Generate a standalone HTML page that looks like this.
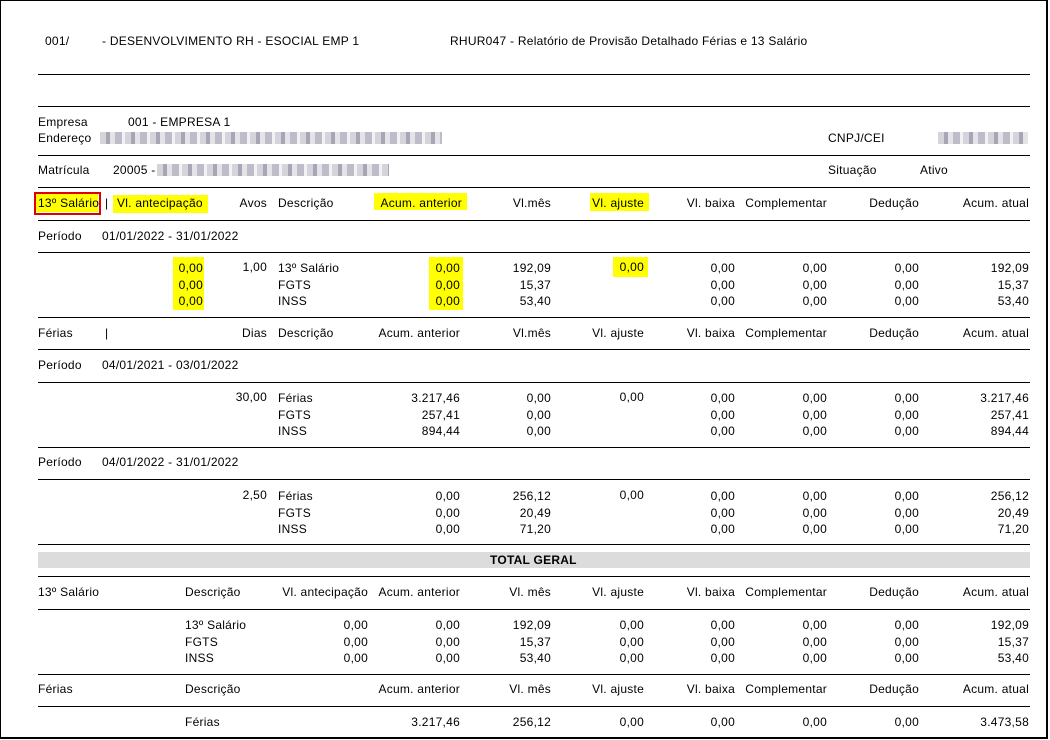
<!DOCTYPE html>
<html><head><meta charset="utf-8"><style>
*{margin:0;padding:0;box-sizing:border-box}
body{width:1050px;height:740px;background:#fff;position:relative;overflow:hidden;font-family:"Liberation Sans",Arial,sans-serif;font-size:12px;color:#000;letter-spacing:0.25px}
.frame{position:absolute;left:0;top:0;width:1048px;height:739px;border:1px solid #000;border-right-width:2px;border-bottom-width:2px}
.t{position:absolute;line-height:14px;white-space:nowrap}
.r{position:absolute;line-height:14px;white-space:nowrap;text-align:right}
.m{line-height:16.5px}
.l{position:absolute;left:38px;width:992px;height:1px;background:#000}
.y{position:absolute;background:#ffff00}
.blur{position:absolute;height:12px;background:repeating-linear-gradient(90deg,#d4d4da 0 6px,#a8a6b4 6px 10px,#e4e4e8 10px 15px,#bebcc8 15px 22px,#f2f2f4 22px 25px)}
</style></head><body>
<div class="frame"></div>

<div class="t" style="left:45px;top:34px">001/</div>
<div class="t" style="left:102px;top:34px">- DESENVOLVIMENTO RH - ESOCIAL EMP 1</div>
<div class="t" style="left:450px;top:34px">RHUR047 - Relatório de Provisão Detalhado Férias e 13 Salário</div>

<div class="l" style="top:74px"></div>
<div class="l" style="top:106px"></div>

<div class="t" style="left:38px;top:115px">Empresa</div>
<div class="t" style="left:128px;top:115px">001 - EMPRESA 1</div>
<div class="t" style="left:38px;top:131px">Endereço</div>
<div class="blur" style="left:100px;top:132px;width:342px"></div>
<div class="t" style="left:828px;top:131px">CNPJ/CEI</div>
<div class="blur" style="left:938px;top:132px;width:90px"></div>
<div class="l" style="top:155px"></div>
<div class="t" style="left:38px;top:163px">Matrícula</div>
<div class="t" style="left:113px;top:163px">20005 -</div>
<div class="blur" style="left:157px;top:164px;width:232px"></div>
<div class="t" style="left:828px;top:163px">Situação</div>
<div class="t" style="left:920px;top:163px">Ativo</div>
<div class="l" style="top:187px"></div>

<div class="y" style="left:36px;top:194px;width:62px;height:18px"></div>
<div style="position:absolute;left:34px;top:192px;width:67px;height:23px;border:2px solid #e00000"></div>
<div class="y" style="left:113px;top:195px;width:95px;height:18px"></div>
<div class="y" style="left:374px;top:193px;width:93px;height:17px"></div>
<div class="y" style="left:590px;top:193px;width:59px;height:18px"></div>
<div class="y" style="left:173px;top:257px;width:31px;height:53px"></div>
<div class="y" style="left:429px;top:257px;width:34px;height:53px"></div>
<div class="y" style="left:613px;top:257px;width:35px;height:20px"></div>

<div class="t" style="left:38px;top:196px">13º Salário</div>
<div class="t" style="left:105px;top:196px">|</div>
<div class="t" style="left:117px;top:196px">Vl. antecipação</div>
<div class="r" style="right:783px;top:196px">Avos</div>
<div class="t" style="left:278px;top:196px">Descrição</div>
<div class="r" style="right:588px;top:196px">Acum. anterior</div>
<div class="r" style="right:499px;top:196px">Vl.mês</div>
<div class="r" style="right:406px;top:196px">Vl. ajuste</div>
<div class="r" style="right:315px;top:196px">Vl. baixa</div>
<div class="r" style="right:223px;top:196px">Complementar</div>
<div class="r" style="right:131px;top:196px">Dedução</div>
<div class="r" style="right:21px;top:196px">Acum. atual</div>
<div class="l" style="top:220px"></div>
<div class="t" style="left:38px;top:229px">Período</div>
<div class="t" style="left:102px;top:229px">01/01/2022 - 31/01/2022</div>
<div class="l" style="top:252px"></div>

<div class="r m" style="right:847px;top:260px">0,00<br>0,00<br>0,00</div>
<div class="r" style="right:783px;top:260px">1,00</div>
<div class="t m" style="left:278px;top:260px">13º Salário<br>FGTS<br>INSS</div>
<div class="r m" style="right:590px;top:260px">0,00<br>0,00<br>0,00</div>
<div class="r m" style="right:499px;top:260px">192,09<br>15,37<br>53,40</div>
<div class="r" style="right:406px;top:260px">0,00</div>
<div class="r m" style="right:315px;top:260px">0,00<br>0,00<br>0,00</div>
<div class="r m" style="right:223px;top:260px">0,00<br>0,00<br>0,00</div>
<div class="r m" style="right:131px;top:260px">0,00<br>0,00<br>0,00</div>
<div class="r m" style="right:21px;top:260px">192,09<br>15,37<br>53,40</div>
<div class="l" style="top:317px"></div>

<div class="t" style="left:38px;top:326px">Férias</div>
<div class="t" style="left:105px;top:326px">|</div>
<div class="r" style="right:783px;top:326px">Dias</div>
<div class="t" style="left:278px;top:326px">Descrição</div>
<div class="r" style="right:590px;top:326px">Acum. anterior</div>
<div class="r" style="right:499px;top:326px">Vl.mês</div>
<div class="r" style="right:406px;top:326px">Vl. ajuste</div>
<div class="r" style="right:315px;top:326px">Vl. baixa</div>
<div class="r" style="right:223px;top:326px">Complementar</div>
<div class="r" style="right:131px;top:326px">Dedução</div>
<div class="r" style="right:21px;top:326px">Acum. atual</div>
<div class="l" style="top:349px"></div>
<div class="t" style="left:38px;top:358px">Período</div>
<div class="t" style="left:102px;top:358px">04/01/2021 - 03/01/2022</div>
<div class="l" style="top:382px"></div>

<div class="r" style="right:783px;top:390px">30,00</div>
<div class="t m" style="left:278px;top:390px">Férias<br>FGTS<br>INSS</div>
<div class="r m" style="right:590px;top:390px">3.217,46<br>257,41<br>894,44</div>
<div class="r m" style="right:499px;top:390px">0,00<br>0,00<br>0,00</div>
<div class="r" style="right:406px;top:390px">0,00</div>
<div class="r m" style="right:315px;top:390px">0,00<br>0,00<br>0,00</div>
<div class="r m" style="right:223px;top:390px">0,00<br>0,00<br>0,00</div>
<div class="r m" style="right:131px;top:390px">0,00<br>0,00<br>0,00</div>
<div class="r m" style="right:21px;top:390px">3.217,46<br>257,41<br>894,44</div>
<div class="l" style="top:447px"></div>
<div class="t" style="left:38px;top:455px">Período</div>
<div class="t" style="left:102px;top:455px">04/01/2022 - 31/01/2022</div>
<div class="l" style="top:479px"></div>

<div class="r" style="right:783px;top:488px">2,50</div>
<div class="t m" style="left:278px;top:488px">Férias<br>FGTS<br>INSS</div>
<div class="r m" style="right:590px;top:488px">0,00<br>0,00<br>0,00</div>
<div class="r m" style="right:499px;top:488px">256,12<br>20,49<br>71,20</div>
<div class="r" style="right:406px;top:488px">0,00</div>
<div class="r m" style="right:315px;top:488px">0,00<br>0,00<br>0,00</div>
<div class="r m" style="right:223px;top:488px">0,00<br>0,00<br>0,00</div>
<div class="r m" style="right:131px;top:488px">0,00<br>0,00<br>0,00</div>
<div class="r m" style="right:21px;top:488px">256,12<br>20,49<br>71,20</div>
<div class="l" style="top:544px"></div>

<div style="position:absolute;left:38px;top:552px;width:992px;height:16px;background:#dcdcdc"></div>
<div class="t" style="left:490px;top:553px;font-weight:bold">TOTAL GERAL</div>
<div class="l" style="top:576px"></div>

<div class="t" style="left:38px;top:585px">13º Salário</div>
<div class="t" style="left:185px;top:585px">Descrição</div>
<div class="r" style="right:682px;top:585px">Vl. antecipação</div>
<div class="r" style="right:590px;top:585px">Acum. anterior</div>
<div class="r" style="right:499px;top:585px">Vl. mês</div>
<div class="r" style="right:406px;top:585px">Vl. ajuste</div>
<div class="r" style="right:315px;top:585px">Vl. baixa</div>
<div class="r" style="right:223px;top:585px">Complementar</div>
<div class="r" style="right:131px;top:585px">Dedução</div>
<div class="r" style="right:21px;top:585px">Acum. atual</div>
<div class="l" style="top:609px"></div>

<div class="t m" style="left:185px;top:617px">13º Salário<br>FGTS<br>INSS</div>
<div class="r m" style="right:682px;top:617px">0,00<br>0,00<br>0,00</div>
<div class="r m" style="right:590px;top:617px">0,00<br>0,00<br>0,00</div>
<div class="r m" style="right:499px;top:617px">192,09<br>15,37<br>53,40</div>
<div class="r m" style="right:406px;top:617px">0,00<br>0,00<br>0,00</div>
<div class="r m" style="right:315px;top:617px">0,00<br>0,00<br>0,00</div>
<div class="r m" style="right:223px;top:617px">0,00<br>0,00<br>0,00</div>
<div class="r m" style="right:131px;top:617px">0,00<br>0,00<br>0,00</div>
<div class="r m" style="right:21px;top:617px">192,09<br>15,37<br>53,40</div>
<div class="l" style="top:674px"></div>

<div class="t" style="left:38px;top:682px">Férias</div>
<div class="t" style="left:185px;top:682px">Descrição</div>
<div class="r" style="right:590px;top:682px">Acum. anterior</div>
<div class="r" style="right:499px;top:682px">Vl. mês</div>
<div class="r" style="right:406px;top:682px">Vl. ajuste</div>
<div class="r" style="right:315px;top:682px">Vl. baixa</div>
<div class="r" style="right:223px;top:682px">Complementar</div>
<div class="r" style="right:131px;top:682px">Dedução</div>
<div class="r" style="right:21px;top:682px">Acum. atual</div>
<div class="l" style="top:706px"></div>

<div class="t" style="left:185px;top:715px">Férias</div>
<div class="r" style="right:590px;top:715px">3.217,46</div>
<div class="r" style="right:499px;top:715px">256,12</div>
<div class="r" style="right:406px;top:715px">0,00</div>
<div class="r" style="right:315px;top:715px">0,00</div>
<div class="r" style="right:223px;top:715px">0,00</div>
<div class="r" style="right:131px;top:715px">0,00</div>
<div class="r" style="right:21px;top:715px">3.473,58</div>
</body></html>
